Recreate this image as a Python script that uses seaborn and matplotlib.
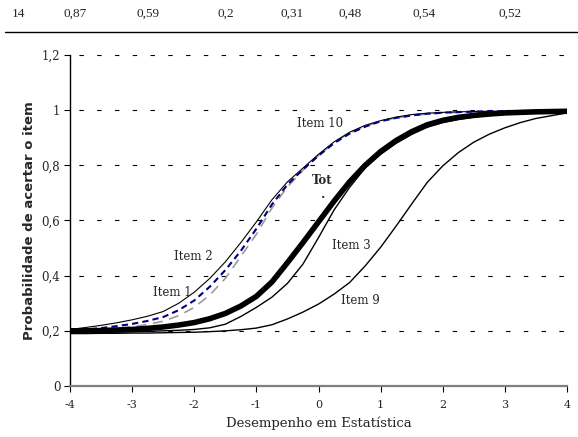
import numpy as np
import pandas as pd
import matplotlib
matplotlib.use('Agg')
import matplotlib.pyplot as plt
from matplotlib.lines import Line2D
import seaborn as sns

# ability grid and item characteristic curves
theta = [-4, -3.75, -3.5, -3.25, -3, -2.75, -2.5, -2.25, -2, -1.75, -1.5, -1.25, -1, -0.75,
         -0.5, -0.25, 0, 0.25, 0.5, 0.75, 1, 1.25, 1.5, 1.75, 2, 2.25, 2.5, 2.75, 3, 3.25,
         3.5, 3.75, 4]
tot = [0.200, 0.200, 0.201, 0.203, 0.205, 0.209, 0.214, 0.221, 0.230, 0.244, 0.263, 0.290,
       0.325, 0.377, 0.447, 0.520, 0.595, 0.670, 0.740, 0.800, 0.850, 0.890, 0.922, 0.947,
       0.963, 0.974, 0.981, 0.986, 0.990, 0.992, 0.994, 0.995, 0.996]
item3 = [0.195, 0.195, 0.196, 0.196, 0.197, 0.198, 0.200, 0.202, 0.205, 0.211, 0.224, 0.252,
         0.285, 0.322, 0.372, 0.442, 0.538, 0.638, 0.720, 0.790, 0.840, 0.880, 0.912, 0.938,
         0.955, 0.966, 0.975, 0.981, 0.986, 0.989, 0.991, 0.993, 0.995]
item9 = [0.190, 0.190, 0.191, 0.191, 0.192, 0.192, 0.193, 0.194, 0.195, 0.197, 0.200, 0.204,
         0.210, 0.222, 0.243, 0.268, 0.297, 0.333, 0.375, 0.435, 0.503, 0.580, 0.660, 0.738,
         0.798, 0.846, 0.884, 0.913, 0.936, 0.955, 0.970, 0.980, 0.990]
item2 = [0.205, 0.212, 0.220, 0.229, 0.240, 0.253, 0.270, 0.300, 0.340, 0.390, 0.450, 0.520,
         0.595, 0.675, 0.740, 0.790, 0.840, 0.885, 0.920, 0.945, 0.962, 0.975, 0.984, 0.989,
         0.992, 0.994, 0.995, 0.996, 0.996, 0.997, 0.997, 0.997, 0.997]
item10 = [0.200, 0.205, 0.210, 0.217, 0.225, 0.236, 0.250, 0.275, 0.310, 0.360, 0.420, 0.490,
          0.570, 0.658, 0.730, 0.785, 0.835, 0.880, 0.915, 0.940, 0.960, 0.972, 0.981, 0.987,
          0.991, 0.993, 0.995, 0.996, 0.996, 0.997, 0.997, 0.997, 0.997]
item1 = [0.200, 0.202, 0.205, 0.209, 0.215, 0.223, 0.235, 0.255, 0.285, 0.330, 0.390, 0.470,
         0.550, 0.645, 0.722, 0.782, 0.836, 0.882, 0.917, 0.941, 0.960, 0.972, 0.980, 0.986,
         0.990, 0.992, 0.994, 0.995, 0.996, 0.996, 0.997, 0.997, 0.997]

# row of the table above the chart
table_vals = ['14', '0,87', '0,59', '0,2', '0,31', '0,48', '0,54', '0,52']
table_x = [18, 75, 148, 226, 292, 350, 424, 510]

xticks = [-4, -3, -2, -1, 0, 1, 2, 3, 4]
yticks = [0, 0.2, 0.4, 0.6, 0.8, 1.0, 1.2]
ytick_labels = ['0', '0,2', '0,4', '0,6', '0,8', '1', '1,2']

sns.set_style('white')
serif = 'DejaVu Serif'

fig = plt.figure(figsize=(5.78, 4.37), dpi=100)
ax = fig.add_axes([70 / 578, 1 - 386 / 437, 497 / 578, 331 / 437])

for yv in yticks[1:]:
    ax.axhline(yv, color='black', lw=0.8, linestyle=(8, (4, 12)), zorder=0)

sns.lineplot(x=theta, y=item1, ax=ax, color='#9a9a9a', lw=1.2, linestyle=(0, (6, 4)))
sns.lineplot(x=theta, y=item2, ax=ax, color='black', lw=0.8)
sns.lineplot(x=theta, y=item10, ax=ax, color='#000080', lw=1.5, linestyle=(0, (3, 2)))
sns.lineplot(x=theta, y=item9, ax=ax, color='black', lw=1.0)
sns.lineplot(x=theta, y=item3, ax=ax, color='black', lw=1.0)
sns.lineplot(x=theta, y=tot, ax=ax, color='black', lw=4.0)

lab = dict(fontsize=8.5, family=serif)
ax.text(-0.35, 0.953, 'Item 10', va='center', **lab)
ax.text(-0.1, 0.745, 'Tot', va='center', fontweight='bold', fontsize=8.5, family=serif)
ax.text(0.07, 0.685, '·', ha='center', va='center', fontweight='bold', fontsize=9, family=serif)
ax.text(0.21, 0.51, 'Item 3', va='center', **lab)
ax.text(0.37, 0.31, 'Item 9', va='center', **lab)
ax.text(-2.33, 0.47, 'Item 2', va='center', **lab)
ax.text(-2.67, 0.34, 'Item 1', va='center', **lab)

ax.set_xlim(-4, 4)
ax.set_ylim(0, 1.2)
ax.set_xticks(xticks)
ax.set_xticklabels([str(t) for t in xticks], family=serif, fontsize=8)
ax.set_yticks(yticks)
ax.set_yticklabels(ytick_labels, family=serif, fontsize=8.5)
ax.tick_params(axis='both', direction='out', length=4, width=0.8, color='black',
               bottom=True, left=True)
ax.tick_params(axis='x', pad=6)
ax.tick_params(axis='y', pad=3)
ax.set_xlabel('Desempenho em Estatística', family=serif, fontsize=9.5, labelpad=5)
ax.set_ylabel('Probabilidade de acertar o item', family='DejaVu Sans', fontweight='bold',
              fontsize=9.5, labelpad=4)

for s in ['top', 'right']:
    ax.spines[s].set_visible(False)
ax.spines['left'].set_color('black')
ax.spines['left'].set_linewidth(1.0)
ax.spines['bottom'].set_color('#808080')
ax.spines['bottom'].set_linewidth(1.6)

for v, px in zip(table_vals, table_x):
    fig.text(px / 578, 1 - 14 / 437, v, ha='center', va='center',
             family='Liberation Serif', fontsize=9.5)
fig.add_artist(Line2D([5 / 578, 1], [1 - 32 / 437, 1 - 32 / 437], color='black', lw=1.0))

fig.savefig('out.png', dpi=100)
